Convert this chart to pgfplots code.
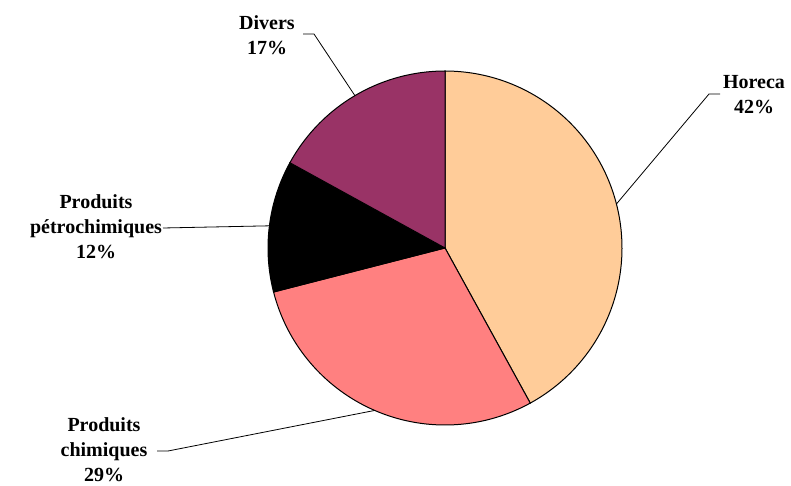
\documentclass[border=0pt]{standalone}
\usepackage{pgfplots}
\pgfplotsset{compat=1.18}
\usepackage{fontspec}
\setmainfont{Liberation Serif}
\definecolor{horeca}{HTML}{FFCC99}
\definecolor{chim}{HTML}{FF8080}
\definecolor{petro}{HTML}{000000}
\definecolor{divers}{HTML}{993366}
\tikzset{lbl/.style={font=\fontsize{15}{18.8}\selectfont\bfseries,align=center,inner sep=0pt}}
% data (percent)
\def\vHoreca{42}
\def\vChim{29}
\def\vPetro{12}
\def\vDivers{17}
\pgfmathsetmacro{\aA}{90}
\pgfmathsetmacro{\aB}{\aA-3.6*\vHoreca}
\pgfmathsetmacro{\aC}{\aB-3.6*\vChim}
\pgfmathsetmacro{\aD}{\aC-3.6*\vPetro}
\pgfmathsetmacro{\aE}{\aD-3.6*\vDivers}
\pgfmathsetmacro{\mA}{(\aA+\aB)/2}
\pgfmathsetmacro{\mB}{(\aB+\aC)/2}
\pgfmathsetmacro{\mC}{(\aC+\aD)/2}
\pgfmathsetmacro{\mD}{(\aD+\aE)/2}
\def\cx{445}
\def\cy{237}
\def\R{177}
\begin{document}
\begin{tikzpicture}
\begin{axis}[x=0.75pt,y=0.75pt,xmin=0,xmax=791,ymin=0,ymax=485,hide axis,clip=false]
\path (axis cs:0,0) rectangle (axis cs:791,485);
\addplot[fill=horeca,draw=black,line width=0.75pt,domain=\aB:\aA,samples=120,variable=t]
  ({\cx+\R*cos(t)},{\cy+\R*sin(t)}) -- (axis cs:\cx,\cy) -- cycle;
\addplot[fill=chim,draw=black,line width=0.75pt,domain=\aC:\aB,samples=100,variable=t]
  ({\cx+\R*cos(t)},{\cy+\R*sin(t)}) -- (axis cs:\cx,\cy) -- cycle;
\addplot[fill=petro,draw=black,line width=0.75pt,domain=\aD:\aC,samples=60,variable=t]
  ({\cx+\R*cos(t)},{\cy+\R*sin(t)}) -- (axis cs:\cx,\cy) -- cycle;
\addplot[fill=divers,draw=black,line width=0.75pt,domain=\aE:\aD,samples=70,variable=t]
  ({\cx+\R*cos(t)},{\cy+\R*sin(t)}) -- (axis cs:\cx,\cy) -- cycle;
% leader lines
\draw[line width=0.6pt] (axis cs:720,391) -- (axis cs:709,391) -- (axis cs:{\cx+\R*cos(\mA)},{\cy+\R*sin(\mA)});
\draw[line width=0.6pt] (axis cs:157,34) -- (axis cs:168,34) -- (axis cs:{\cx+\R*cos(\mB)},{\cy+\R*sin(\mB)});
\draw[line width=0.6pt] (axis cs:163,257) -- (axis cs:{\cx+\R*cos(\mC)},{\cy+\R*sin(\mC)});
\draw[line width=0.6pt] (axis cs:303,451) -- (axis cs:314,451) -- (axis cs:{\cx+\R*cos(\mD)},{\cy+\R*sin(\mD)});
% labels
\node[lbl] at (axis cs:754,390) {Horeca\\\vHoreca\%};
\node[lbl] at (axis cs:104,35) {Produits\\chimiques\\\vChim\%};
\node[lbl] at (axis cs:96,258) {Produits\\pétrochimiques\\\vPetro\%};
\node[lbl] at (axis cs:267,450) {Divers\\\vDivers\%};
\end{axis}
\end{tikzpicture}
\end{document}
